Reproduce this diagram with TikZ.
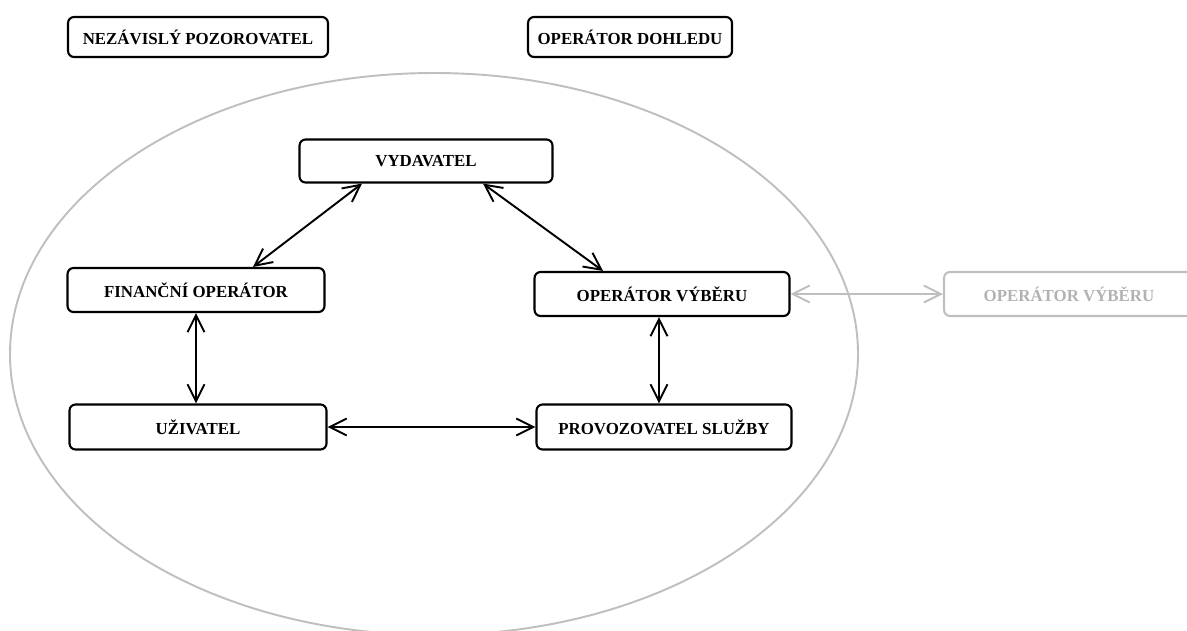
\documentclass[tikz,border=0pt]{standalone}
\usepackage{fontspec}
\setmainfont{Liberation Serif}
\usetikzlibrary{calc, arrows.meta}

\begin{document}
\begin{tikzpicture}[x=0.02cm, y=-0.02cm,
    box/.style={draw, line width=1.2pt, rounded corners=0.12cm, inner sep=0pt,
      font=\bfseries\fontsize{9.6}{11}\selectfont},
    gbox/.style={box, draw=black!25, text=black!30},
    arr/.style={{Straight Barb[length=3.4mm,width=3.4mm]}-{Straight Barb[length=3.4mm,width=3.4mm]}, line width=1.1pt},
    garr/.style={arr, draw=black!25}]
  \useasboundingbox (0,0) rectangle (1187,630);

  % elipsa
  \draw[black!25, line width=1.1pt] (434,354) ellipse [x radius=424, y radius=281];

  % uzly nahore
  \node[box, minimum width=5.2cm, minimum height=0.8cm] (pozorovatel) at (198,37) {NEZÁVISLÝ POZOROVATEL};
  \node[box, minimum width=4.08cm, minimum height=0.8cm] (dohled) at (630,37) {OPERÁTOR DOHLEDU};

  % uzly v elipse
  \node[box, minimum width=5.06cm, minimum height=0.86cm] (vydavatel) at (426,161) {VYDAVATEL};
  \node[box, minimum width=5.14cm, minimum height=0.88cm] (financni) at (196,290) {FINANČNÍ OPERÁTOR};
  \node[box, minimum width=5.1cm, minimum height=0.88cm] (operator) at (662,294) {OPERÁTOR VÝBĚRU};
  \node[box, minimum width=5.14cm, minimum height=0.9cm] (uzivatel) at (198,427) {UŽIVATEL};
  \node[box, minimum width=5.1cm, minimum height=0.9cm] (provozovatel) at (664,427) {PROVOZOVATEL SLUŽBY};

  % vnejsi operator
  \node[gbox, minimum width=5.0cm, minimum height=0.88cm] (operatorext) at (1069,294) {OPERÁTOR VÝBĚRU};

  % spojnice
  \draw[arr] ($(vydavatel.south)+(-64,0)$) -- ($(financni.north)+(57,0)$);
  \draw[arr] ($(vydavatel.south)+(57,0)$) -- ($(operator.north)+(-59,0)$);
  \draw[arr] (financni.south) -- (financni.south |- uzivatel.north);
  \draw[arr] ($(operator.south)+(-3,0)$) -- ($(operator.south |- provozovatel.north)+(-3,0)$);
  \draw[arr] (uzivatel.east) -- (uzivatel.east -| provozovatel.west);
  \draw[garr] (operator.east) -- (operatorext.west);
\end{tikzpicture}
\end{document}
